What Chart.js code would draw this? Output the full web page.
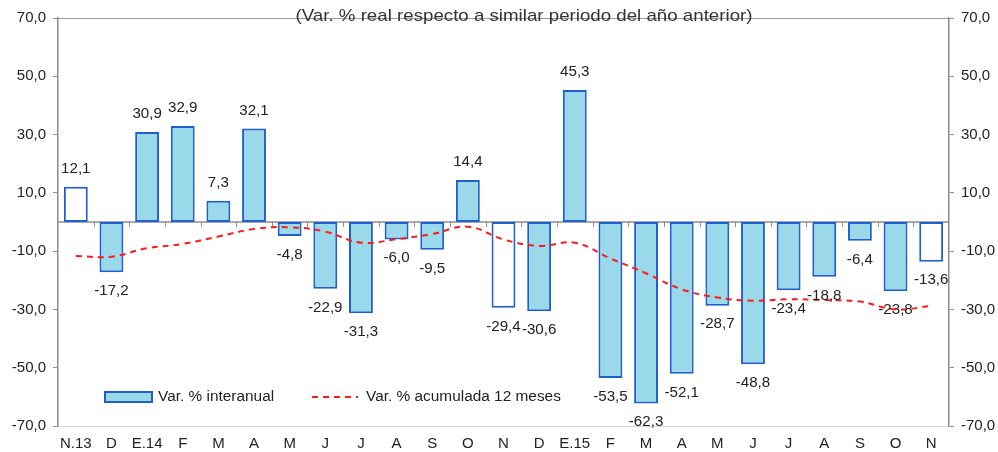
<!DOCTYPE html>
<html>
<head>
<meta charset="utf-8">
<script src="https://cdn.jsdelivr.net/npm/chart.js@4.4.1/dist/chart.umd.min.js"></script>
<style>
  html, body { margin: 0; padding: 0; background: #fff; }
  #wrap { width: 998px; height: 452px; }
</style>
</head>
<body>
<div id="wrap"><canvas id="chart"></canvas></div>
<script>
// Datos
const categories = ['N.13', 'D', 'E.14', 'F', 'M', 'A', 'M', 'J', 'J', 'A', 'S', 'O',
  'N', 'D', 'E.15', 'F', 'M', 'A', 'M', 'J', 'J', 'A', 'S', 'O', 'N'];
const interanual = [12.1, -17.2, 30.9, 32.9, 7.3, 32.1, -4.8, -22.9, -31.3, -6.0, -9.5, 14.4,
  -29.4, -30.6, 45.3, -53.5, -62.3, -52.1, -28.7, -48.8, -23.4, -18.8, -6.4, -23.8, -13.6];
const acumulada = [-11.7, -11.9, -9.0, -7.5, -5.0, -2.4, -1.8, -3.3, -7.1, -5.9, -4.1, -1.6,
  -6.0, -8.2, -7.1, -12.5, -17.6, -23.1, -25.9, -27.0, -26.5, -26.8, -27.3, -30.0, -28.8];
const yTicks = [-70, -50, -30, -10, 10, 30, 50, 70];

const title = '(Var. % real respecto a similar periodo del año anterior)';
const FONT = '"Liberation Sans", Arial, sans-serif';
const TEXT = '#222';

function fmt(v) {
  return v.toFixed(1).replace('.', ',');
}

// draw text slightly stretched horizontally, like the original image
function stretchText(ctx, text, x, y, sx) {
  ctx.save();
  ctx.translate(x, y);
  ctx.scale(sx, 1);
  ctx.fillText(text, 0, 0);
  ctx.restore();
}

// Zero line with small ticks between categories
const zeroAxis = {
  id: 'zeroAxis',
  beforeDatasetsDraw(chart) {
    const { ctx, chartArea, scales } = chart;
    const y0 = scales.y.getPixelForValue(0);
    ctx.save();
    ctx.strokeStyle = '#8c8c8c';
    ctx.lineWidth = 1.5;
    ctx.beginPath();
    ctx.moveTo(chartArea.left, y0);
    ctx.lineTo(chartArea.right, y0);
    ctx.stroke();
    ctx.lineWidth = 1;
    for (let i = 0; i < categories.length - 1; i++) {
      const x = (scales.x.getPixelForValue(i) + scales.x.getPixelForValue(i + 1)) / 2;
      ctx.beginPath();
      ctx.moveTo(Math.round(x) + 0.5, y0);
      ctx.lineTo(Math.round(x) + 0.5, y0 + 5);
      ctx.stroke();
    }
    ctx.restore();
  }
};

// Value labels, title and legend
const decorations = {
  id: 'decorations',
  afterDatasetsDraw(chart) {
    const { ctx } = chart;
    const meta = chart.getDatasetMeta(0);
    ctx.save();
    ctx.font = '14px ' + FONT;
    ctx.fillStyle = TEXT;
    ctx.textAlign = 'center';
    ctx.textBaseline = 'middle';
    meta.data.forEach((bar, i) => {
      const v = interanual[i];
      const y = v >= 0 ? bar.y - 17.5 : bar.y + 19;
      stretchText(ctx, fmt(v), bar.x, y, 1.08);
    });

    // title
    ctx.font = '17px ' + FONT;
    ctx.fillStyle = '#333';
    stretchText(ctx, title, 524, 16, 1.1);

    // legend
    const ly = 397;
    ctx.fillStyle = '#99d9ea';
    ctx.strokeStyle = '#1f5fcf';
    ctx.lineWidth = 2;
    ctx.fillRect(105, ly - 5, 47, 10);
    ctx.strokeRect(105, ly - 5, 47, 10);
    ctx.font = '14px ' + FONT;
    ctx.fillStyle = TEXT;
    ctx.textAlign = 'left';
    stretchText(ctx, 'Var. % interanual', 158, ly, 1.1);

    ctx.strokeStyle = '#ff1a1a';
    ctx.setLineDash([6, 5]);
    ctx.beginPath();
    ctx.moveTo(312, ly);
    ctx.lineTo(358, ly);
    ctx.stroke();
    ctx.setLineDash([]);
    stretchText(ctx, 'Var. % acumulada 12 meses', 366, ly, 1.1);
    ctx.restore();
  }
};

const yScale = (position) => ({
  position: position,
  min: -70,
  max: 70,
  afterBuildTicks: (scale) => { scale.ticks = yTicks.map(v => ({ value: v })); },
  afterFit: (scale) => { scale.width = position === 'left' ? 58 : 49; },
  border: { display: true, color: '#8c8c8c', width: 1.5 },
  grid: {
    drawOnChartArea: position === 'left',
    color: (c) => (c.tick && c.tick.value === 70 ? '#9a9a9a' : 'rgba(0,0,0,0)'),
    tickColor: '#8c8c8c',
    tickLength: 5
  },
  ticks: {
    padding: 7,
    color: TEXT,
    font: { family: FONT, size: 15 },
    callback: (v) => fmt(v)
  }
});

new Chart(document.getElementById('chart'), {
  type: 'bar',
  data: {
    labels: categories,
    datasets: [{
      type: 'bar',
      label: 'Var. % interanual',
      data: interanual,
      backgroundColor: categories.map(c => (c.startsWith('N') ? '#ffffff' : '#99d9ea')),
      borderColor: '#1f5fcf',
      borderWidth: 2,
      borderSkipped: false,
      categoryPercentage: 1,
      barPercentage: 0.67,
      order: 2
    }, {
      type: 'line',
      label: 'Var. % acumulada 12 meses',
      data: acumulada,
      borderColor: '#ff1a1a',
      borderWidth: 2,
      borderDash: [6, 5],
      tension: 0.4,
      pointRadius: 0,
      fill: false,
      order: 1
    }]
  },
  options: {
    responsive: true,
    maintainAspectRatio: false,
    animation: false,
    layout: { padding: { top: 18, left: 0, right: 0, bottom: 0 } },
    plugins: {
      legend: { display: false },
      tooltip: { enabled: false }
    },
    scales: {
      x: {
        afterFit: (scale) => { scale.height = 26; },
        border: { display: true, color: '#d9d9d9', width: 1 },
        grid: { display: false, drawTicks: false },
        ticks: {
          padding: 9,
          color: TEXT,
          font: { family: FONT, size: 15 },
          maxRotation: 0,
          autoSkip: false
        }
      },
      y: yScale('left'),
      y1: yScale('right')
    }
  },
  plugins: [zeroAxis, decorations]
});
</script>
</body>
</html>
